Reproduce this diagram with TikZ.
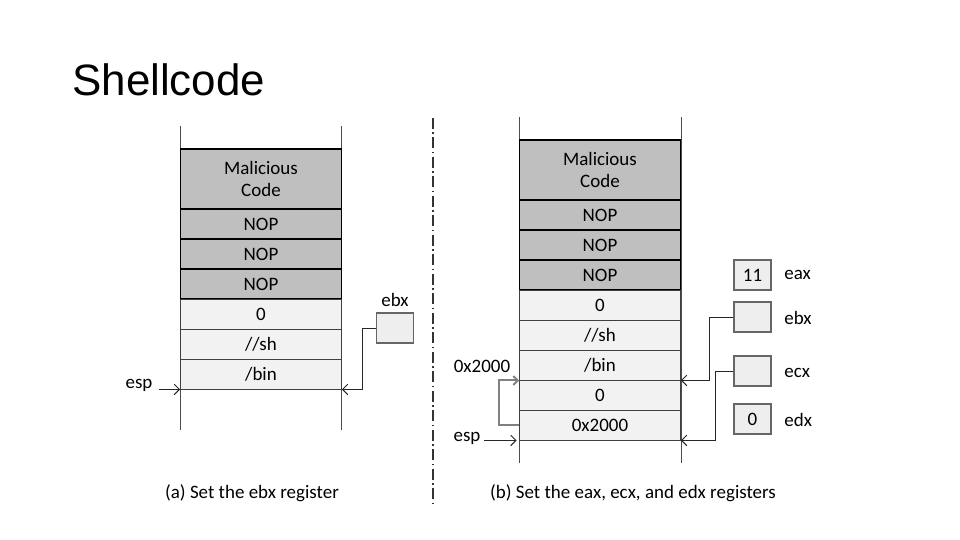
\documentclass[tikz,border=0pt]{standalone}
\usepackage{fontspec}
\setmainfont{Carlito}
\newfontfamily\titulofont{Liberation Sans}
\usepackage{tikz}
\usetikzlibrary{arrows}
\usetikzlibrary{arrows.meta}
\definecolor{celdaOscura}{RGB}{191,191,191}
\definecolor{celdaClara}{RGB}{242,242,242}
\definecolor{fondoReg}{RGB}{238,238,238}
\pgfdeclarelayer{lineas_layer}
\pgfdeclarelayer{esquema}
\pgfsetlayers{lineas_layer,esquema,main}
\tikzstyle{none}=[inner sep=0pt]
\tikzstyle{texto}=[inner sep=0pt,font=\fontsize{10.8}{12.5}\selectfont]
\tikzstyle{oscura}=[draw=black,fill=celdaOscura,line width=0.9pt,minimum width=3.22cm,minimum height=0.6cm,inner sep=0pt,align=center,font=\fontsize{10.8}{12.5}\selectfont]
\tikzstyle{clara}=[draw=black!75,fill=celdaClara,line width=0.5pt,minimum width=3.22cm,minimum height=0.6cm,inner sep=0pt,font=\fontsize{10.8}{12.5}\selectfont]
\tikzstyle{registro}=[draw=black!60,fill=fondoReg,line width=0.7pt,minimum width=0.74cm,minimum height=0.6cm,inner sep=0pt,font=\fontsize{10.8}{12.5}\selectfont]
\tikzstyle{pared}=[draw=black!70,line width=0.6pt]
\tikzstyle{line}=[draw=black!85,line width=0.55pt,-{Straight Barb[length=3pt,width=6pt]}]
\tikzstyle{gris}=[draw=black!50,line width=1.1pt,-{Straight Barb[length=2.5pt,width=5pt]}]
\tikzstyle{divisor}=[draw=black!80,line width=0.6pt,dash pattern=on 0.22cm off 0.07cm on 0.03cm off 0.07cm]

\begin{document}
\begin{tikzpicture}[x=0.02cm,y=-0.02cm]
		\useasboundingbox (0,0) rectangle (960,540);
		\node [anchor=west,inner sep=0pt,font=\titulofont\fontsize{25}{25}\selectfont] (titulo) at (72,80) {Shellcode};
		\begin{pgfonlayer}{lineas_layer}
			% paredes de las pilas
			\draw [style=pared] (180.5,126) -- (180.5,430);
			\draw [style=pared] (341.5,126) -- (341.5,430);
			\draw [style=pared] (519.5,117) -- (519.5,463);
			\draw [style=pared] (681.5,117) -- (681.5,463);
			\draw [style=divisor] (433,118) -- (433,505);
		\end{pgfonlayer}
		\begin{pgfonlayer}{esquema}
			% pila (a)
			\node [style=oscura,minimum height=1.2cm] (codigo_a) at (261,179) {Malicious\\Code};
			\node [style=oscura] (nop_a1) at (261,224) {NOP};
			\node [style=oscura] (nop_a2) at (261,254) {NOP};
			\node [style=oscura] (nop_a3) at (261,284) {NOP};
			\node [style=clara] (cero_a) at (261,314) {0};
			\node [style=clara] (sh_a) at (261,344) {//sh};
			\node [style=clara] (bin_a) at (261,374) {/bin};
			\node [style=registro] (ebx_a) at (395,328) {};
			\node [style=texto] (ebx_a_txt) at (395,300) {ebx};
			\node [style=texto] (esp_a) at (139,385) {esp};
			% pila (b)
			\node [style=oscura,minimum height=1.2cm] (codigo_b) at (600,170) {Malicious\\Code};
			\node [style=oscura] (nop_b1) at (600,215) {NOP};
			\node [style=oscura] (nop_b2) at (600,245) {NOP};
			\node [style=oscura] (nop_b3) at (600,275) {NOP};
			\node [style=clara] (cero_b1) at (600,305) {0};
			\node [style=clara] (sh_b) at (600,335) {//sh};
			\node [style=clara] (bin_b) at (600,365) {/bin};
			\node [style=clara] (cero_b2) at (600,395) {0};
			\node [style=clara] (dir_b) at (600,425) {0x2000};
			\node [style=texto] (dir_txt) at (482,366) {0x2000};
			\node [style=texto] (esp_b) at (467,438) {esp};
			% registros
			\node [style=registro] (eax_b) at (752.5,275) {11};
			\node [style=registro] (ebx_b) at (752.5,317) {};
			\node [style=registro] (ecx_b) at (752.5,371) {};
			\node [style=registro] (edx_b) at (752.5,419) {0};
			\node [style=texto,anchor=west] (eax_txt) at (784,275) {eax};
			\node [style=texto,anchor=west] (ebx_txt) at (784,318) {ebx};
			\node [style=texto,anchor=west] (ecx_txt) at (784,373) {ecx};
			\node [style=texto,anchor=west] (edx_txt) at (784,420) {edx};
			% leyendas
			\node [style=texto] (leyenda_a) at (252,493) {(a) Set the ebx register};
			\node [style=texto] (leyenda_b) at (633,493) {(b) Set the eax, ecx, and edx registers};
		\end{pgfonlayer}
		% flechas
		\path [style=line] (esp_a.east |- bin_a.south) ++(6,0) -- (bin_a.south west);
		\path [style=line] (ebx_a.west) -- ++(-13,0) |- (bin_a.south east);
		\path [style=line] (esp_b.east |- dir_b.south) ++(3,0) -- ([xshift=-0.05cm]dir_b.south west);
		\path [style=line] (ebx_b.west) -- ++(-24,0) |- (bin_b.south east);
		\path [style=line] (ecx_b.west) -- ++(-18,0) |- (dir_b.south east);
		\path [style=gris] (dir_b.west) -- ++(-20,0) |- (bin_b.south west);
		\end{tikzpicture}
\end{document}
